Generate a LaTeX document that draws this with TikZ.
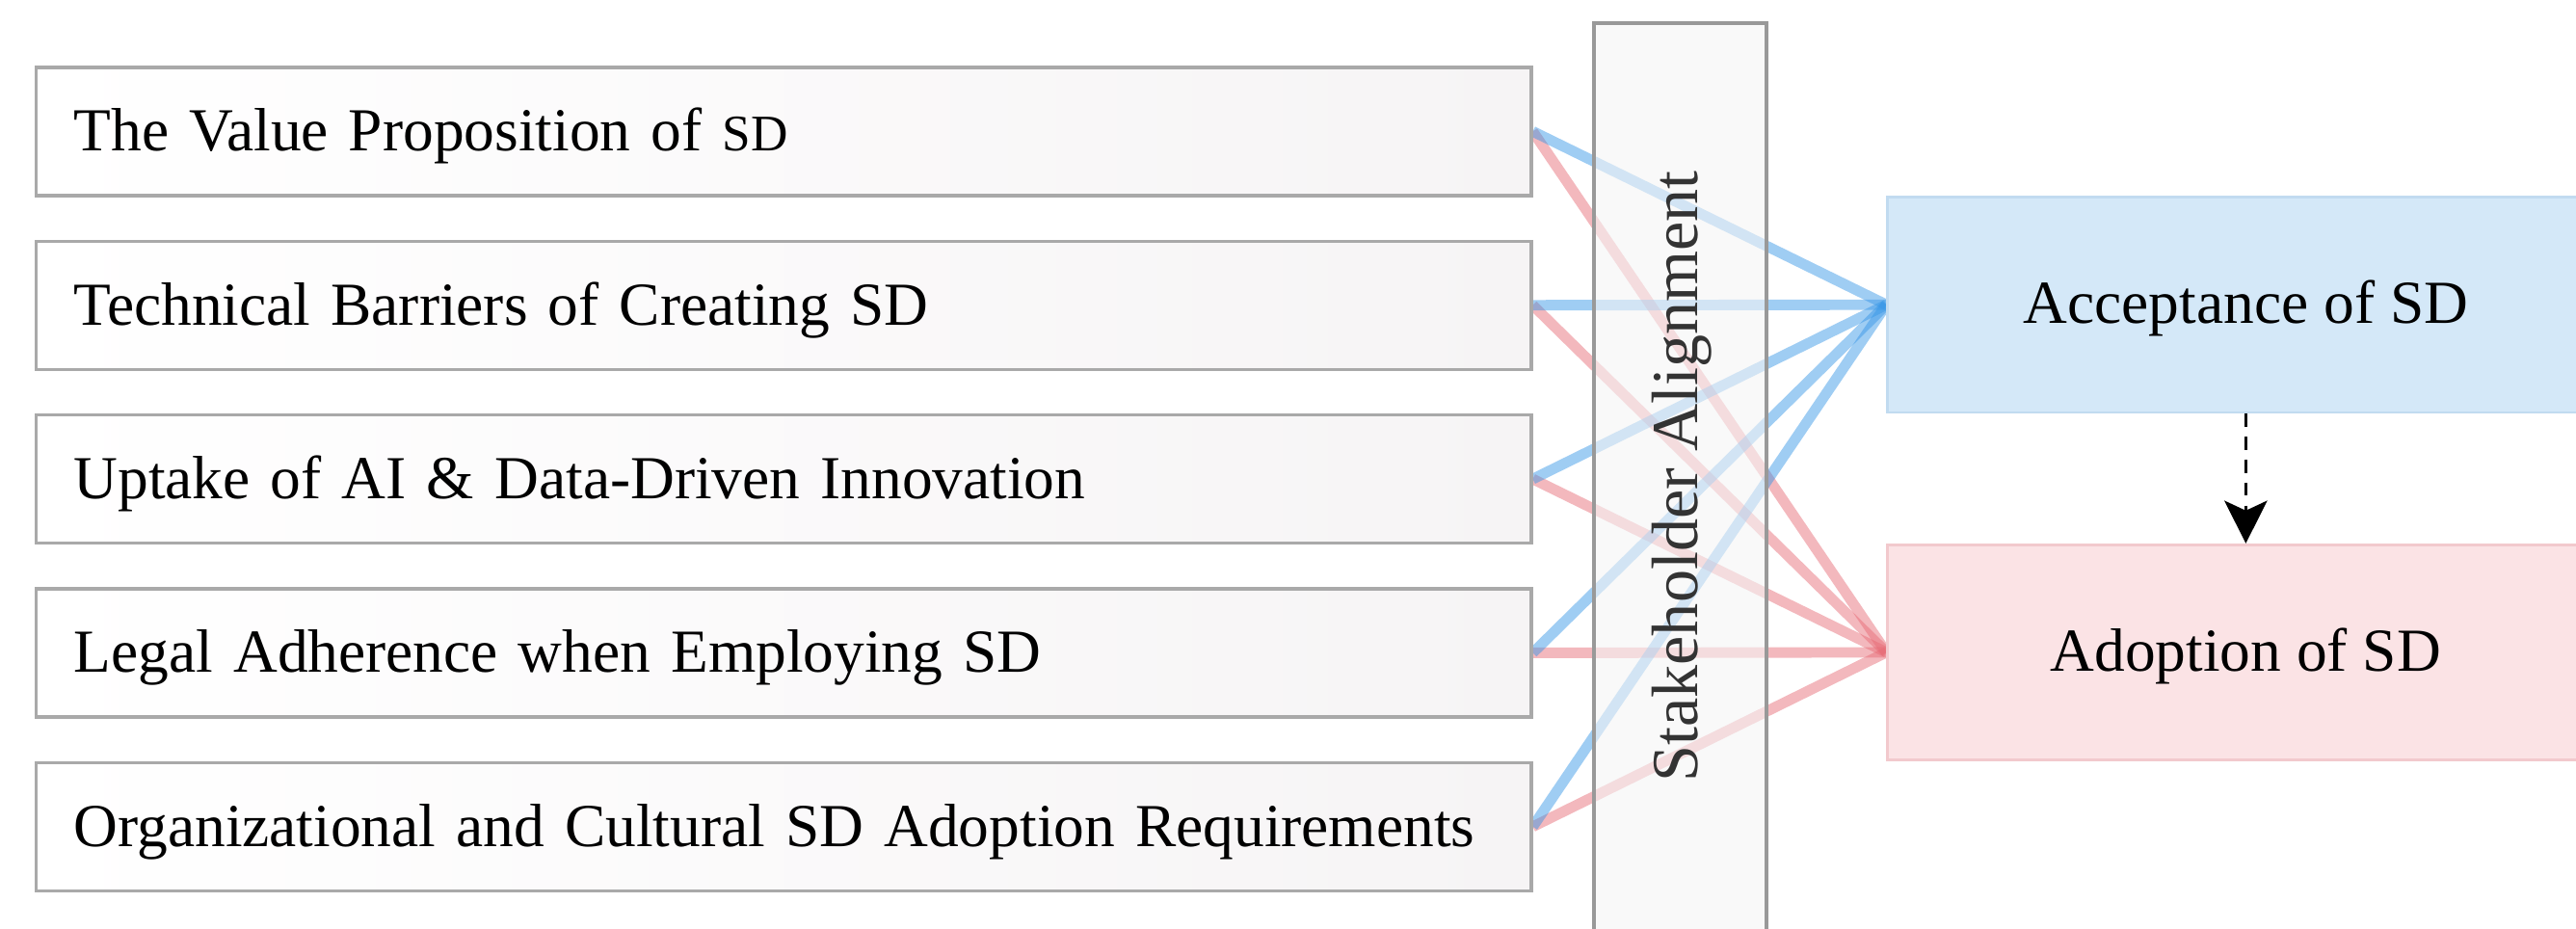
\documentclass[tikz,border=0pt]{standalone}
\usepackage{fontspec}
\setmainfont{Liberation Serif}
\usepackage{tikz}
\usetikzlibrary{%
  positioning
 ,arrows.meta
 ,backgrounds
}
\definecolor{boxgray}{RGB}{169,169,169}
\definecolor{boxfillr}{RGB}{246,244,245}
\definecolor{stkgray}{RGB}{153,153,153}
\definecolor{stkfill}{RGB}{245,245,245}
\definecolor{accfill}{RGB}{212,232,248}
\definecolor{accline}{RGB}{193,219,240}
\definecolor{adpfill}{RGB}{251,227,229}
\definecolor{adpline}{RGB}{242,201,205}
\definecolor{lblue}{RGB}{55,150,230}
\definecolor{lred}{RGB}{230,106,117}
\tikzstyle{fct}=[rectangle,draw=boxgray,line width=1pt,left color=white,right color=boxfillr,minimum width=455pt,minimum height=39pt,text width=432pt,text height=14.5pt,text depth=2.5pt,inner xsep=11.5pt,align=left,font=\fontsize{18.6}{22}\selectfont]
\tikzstyle{stk}=[rectangle,draw=stkgray,line width=1.2pt,fill=stkfill,fill opacity=0.6,minimum width=52.5pt,minimum height=300pt]
\tikzstyle{res}=[rectangle,line width=0.8pt,minimum width=218pt,minimum height=65.5pt,text height=14.5pt,text depth=3pt,font=\fontsize{18.6}{22}\selectfont]
\tikzstyle{ln}=[line width=3.2pt,opacity=0.48]
\tikzstyle{dsh}=[-{Stealth[length=13pt,width=13pt,inset=3pt]},dash pattern=on 4pt off 3pt,line width=1pt]

\begin{document}
\begin{tikzpicture}
      \useasboundingbox (0,0) rectangle (784pt,-282.5pt);
      % factors
      \node[fct] (f_1) at (238.5pt,-40pt) {The Value Proposition of {\fontsize{15.6}{18}\selectfont SD}};
      \node[fct] (f_2) [below=12.9pt of f_1] {Technical Barriers of Creating SD};
      \node[fct] (f_3) [below=12.9pt of f_2] {Uptake of AI \& Data-Driven Innovation};
      \node[fct] (f_4) [below=12.9pt of f_3] {Legal Adherence when Employing SD};
      \node[fct] (f_5) [below=12.9pt of f_4] {Organizational and Cultural SD Adoption Requirements};
      % stakeholder bar
      \node[stk] (sa) at (511.25pt,-157pt) {};
      \node[rotate=90,font=\fontsize{20}{24}\selectfont,text=black!80] (sa_t) at (512pt,-145pt) {Stakeholder Alignment};
      % outcomes
      \node[res,fill=accfill,draw=accline] (acc) at (683.5pt,-92.75pt) {Acceptance of SD};
      \node[res,fill=adpfill,draw=adpline] (adp) [below=39.5pt of acc] {Adoption of SD};
      \draw[dsh] (acc) -- (adp);
      \begin{scope}[on background layer]
      \path[ln,lred]
        (f_1.east) edge (adp.west)
        (f_2.east) edge (adp.west)
        (f_3.east) edge (adp.west)
        (f_4.east) edge (adp.west)
        (f_5.east) edge (adp.west);
      \path[ln,lblue]
        (f_1.east) edge (acc.west)
        (f_2.east) edge (acc.west)
        (f_3.east) edge (acc.west)
        (f_4.east) edge (acc.west)
        (f_5.east) edge (acc.west);
      \end{scope}
\end{tikzpicture}
\end{document}
